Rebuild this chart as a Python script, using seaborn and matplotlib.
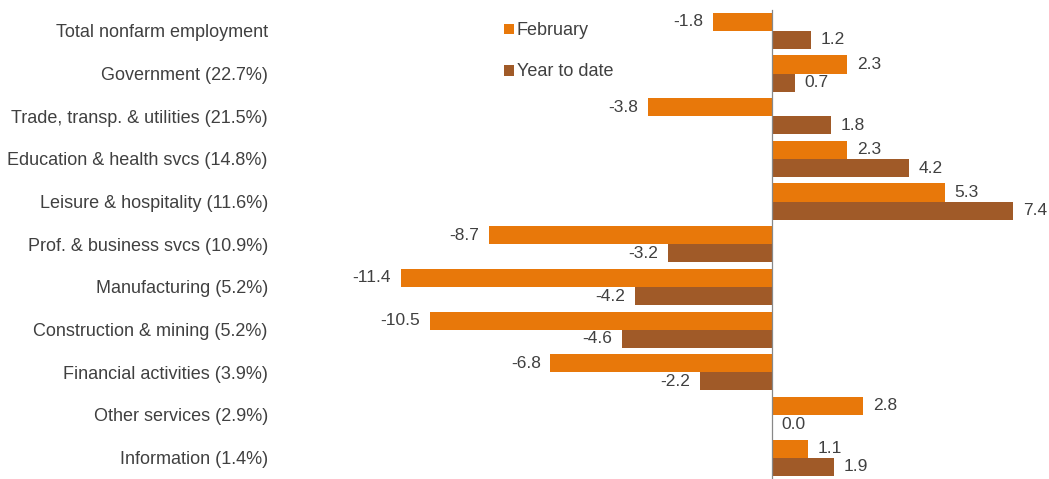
import matplotlib
matplotlib.use("Agg")
import matplotlib.pyplot as plt
import seaborn as sns
import pandas as pd
import numpy as np

categories = [
    "Total nonfarm employment",
    "Government (22.7%)",
    "Trade, transp. & utilities (21.5%)",
    "Education & health svcs (14.8%)",
    "Leisure & hospitality (11.6%)",
    "Prof. & business svcs (10.9%)",
    "Manufacturing (5.2%)",
    "Construction & mining (5.2%)",
    "Financial activities (3.9%)",
    "Other services (2.9%)",
    "Information (1.4%)",
]
february = [-1.8, 2.3, -3.8, 2.3, 5.3, -8.7, -11.4, -10.5, -6.8, 2.8, 1.1]
year_to_date = [1.2, 0.7, 1.8, 4.2, 7.4, -3.2, -4.2, -4.6, -2.2, 0.0, 1.9]
series_names = ["February", "Year to date"]
colors = ["#E8780A", "#A05A28"]

df = pd.DataFrame({
    "category": categories * 2,
    "value": february + year_to_date,
    "series": [series_names[0]] * len(categories) + [series_names[1]] * len(categories),
})

sns.set_style("white")
plt.rcParams["font.family"] = ["Liberation Sans", "DejaVu Sans"]
text_color = "#404040"

fig = plt.figure(figsize=(10.49, 4.79), dpi=100)
ax = fig.add_axes([0.27, 0.0, 0.73, 0.98])

sns.barplot(data=df, y="category", x="value", hue="series", orient="h",
            palette=colors, saturation=1, width=0.85, ax=ax, linewidth=0,
            order=categories, hue_order=series_names, legend=True)

for cont in ax.containers:
    ax.bar_label(cont, fmt="%.1f", padding=7, fontsize=12.5, color=text_color)

ax.set_xlim(-15.0, 8.5)
ax.set_ylim(len(categories) - 0.5, -0.5)
ax.set_xlabel("")
ax.set_ylabel("")
ax.set_xticks([])

for s in ["top", "right", "bottom"]:
    ax.spines[s].set_visible(False)
ax.spines["left"].set_position(("data", 0))
ax.spines["left"].set_color("#888888")
ax.spines["left"].set_linewidth(0.9)

ax.set_yticks(np.arange(len(categories)))
ax.set_yticklabels(categories)
ax.set_yticks(np.arange(len(categories)) - 0.5, minor=True)
ax.tick_params(axis="y", which="major", length=0, pad=363, labelsize=13, labelcolor=text_color)
ax.tick_params(axis="y", which="minor", length=4, width=0.9, color="#888888", direction="out")

handles, labels = ax.get_legend_handles_labels()
ax.legend(handles, labels, loc="upper left", bbox_to_anchor=(0.472, 0.972),
          bbox_transform=fig.transFigure, frameon=False, fontsize=13,
          handlelength=0.55, handleheight=0.55, handletextpad=0.15,
          labelspacing=1.33, borderpad=0, labelcolor=text_color)

fig.savefig("out.png", dpi=100)
